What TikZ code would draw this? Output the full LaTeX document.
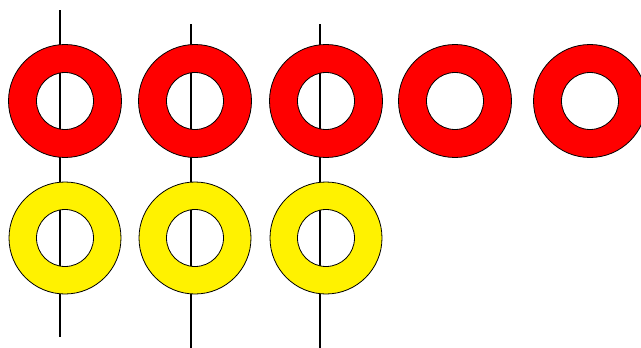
\documentclass[tikz,border=0pt]{standalone}
\usepackage{tikz}
\tikzset{
    rod/.style={line width=1.6pt,black},
    ring/.style={draw=black,line width=0.8pt,even odd rule},
}
\begin{document}
\begin{tikzpicture}[x=1pt,y=-1pt]
    \useasboundingbox (0,0) rectangle (641,348);
    % ring centres
    \coordinate (r1) at (65,101);
    \coordinate (r2) at (195,101);
    \coordinate (r3) at (326,101);
    \coordinate (r4) at (455,101);
    \coordinate (r5) at (590,101);
    \coordinate (y1) at (65,238);
    \coordinate (y2) at (195,238);
    \coordinate (y3) at (326,238);
    % rod ends
    \coordinate (t1) at (60,10);
    \coordinate (b1) at (60,337);
    \coordinate (t2) at (191,24);
    \coordinate (b2) at (191,348);
    \coordinate (t3) at (320,24);
    \coordinate (b3) at (320,348);

    \draw[rod] (t1) -- (b1);
    \draw[rod] (t2) -- (b2);
    \draw[rod] (t3) -- (b3);

    \foreach \c in {r1,r2,r3,r4,r5}
        \path[ring,fill=red] (\c) circle (56.5pt) (\c) circle (28.5pt);
    \foreach \c in {y1,y2,y3}
        \path[ring,fill=yellow] (\c) circle (56pt) (\c) circle (28.5pt);
\end{tikzpicture}
\end{document}
